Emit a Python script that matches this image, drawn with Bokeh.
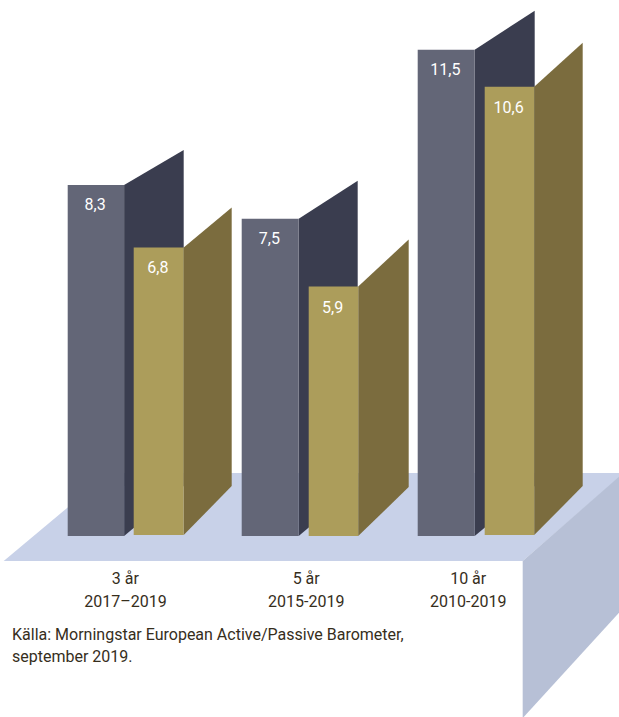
from bokeh.core.properties import value
from bokeh.embed import file_html
from bokeh.plotting import figure
from bokeh.resources import INLINE

# Return figures per period (percent)
periods = ["3 år", "5 år", "10 år"]
spans = ["2017–2019", "2015-2019", "2010-2019"]
series_dark = [8.3, 7.5, 11.5]
series_gold = [6.8, 5.9, 10.6]
dark_labels = ["8,3", "7,5", "11,5"]
gold_labels = ["6,8", "5,9", "10,6"]
source_lines = ["Källa: Morningstar European Active/Passive Barometer,", "september 2019."]

W, H = 619, 717
BASE_PX = 536.0
PX_PER_UNIT = 42.3
FONT = value("Roboto")
TEXT_COLOR = "#362e1c"


def yv(px):
    """Canvas row to value units."""
    return (BASE_PX - px) / PX_PER_UNIT


p = figure(width=W, height=H, x_range=(0.8, W + 0.8), y_range=(yv(H + 0.4), yv(0.4)),
           output_backend="svg", toolbar_location=None, min_border=0,
           background_fill_color="white", border_fill_color="white")
p.axis.visible = False
p.grid.visible = False
p.outline_line_color = None

# Platform: top face and right-hand face
p.patch([4, 523, 620, 620, 109], [yv(561), yv(561), yv(477), yv(473), yv(473)],
        fill_color="#c8d1e8", line_color=None)
p.patch([523, 620, 620, 523], [yv(561), yv(476), yv(612), yv(718)],
        fill_color="#b7c0d6", line_color=None)

# Horizontal layout of each column: front-left, front-right, back edge
dark_x = [(68, 124.4, 184), (242, 299, 358), (418, 475, 535)]
gold_x = [(134, 184, 232), (309, 358.5, 409), (485, 534.5, 583)]
dark_rise = [35, 38, 39]
gold_rise = [40, 47, 44]
gold_base = [535, 536, 535]


def column(x, val, rise, base_px, foot_rise, front, side):
    x0, x1, x2 = x
    bottom = yv(base_px)
    top = bottom + val
    p.patch([x1, x2, x2, x1],
            [top, top + rise / PX_PER_UNIT, bottom + foot_rise / PX_PER_UNIT, bottom],
            fill_color=side, line_color=None)
    p.quad(left=[x0], right=[x1], top=[top], bottom=[bottom],
           fill_color=front, line_color=None)
    return top


for i in range(3):
    dark_top = column(dark_x[i], series_dark[i], dark_rise[i], BASE_PX, 50, "#636677", "#3a3d4f")
    gold_top = column(gold_x[i], series_gold[i], gold_rise[i], gold_base[i], 49, "#ac9d5b", "#7b6c3e")

    p.text([sum(dark_x[i][:2]) / 2 - 0.8], [dark_top - 19 / PX_PER_UNIT], text=[dark_labels[i]],
           text_font=FONT, text_font_size="16px",
           text_color="white", text_align="center", text_baseline="middle")
    p.text([sum(gold_x[i][:2]) / 2 - 0.8], [gold_top - 20 / PX_PER_UNIT], text=[gold_labels[i]],
           text_font=FONT, text_font_size="16px",
           text_color="white", text_align="center", text_baseline="middle")

# Period captions under the platform
caption_x = [125.7, 306.5, 468.5]
for cx, period, span in zip(caption_x, periods, spans):
    p.text([cx], [yv(578)], text=[period], text_font=FONT, text_font_size="16px",
           text_color=TEXT_COLOR, text_align="center", text_baseline="middle")
    p.text([cx], [yv(601)], text=[span], text_font=FONT, text_font_size="16px",
           text_color=TEXT_COLOR, text_align="center", text_baseline="middle")

for row, line in zip((634, 656), source_lines):
    p.text([12.3], [yv(row)], text=[line], text_font=FONT, text_font_size="16px",
           text_color=TEXT_COLOR, text_align="left", text_baseline="middle")

open("out.html", "w").write(file_html(p, INLINE))
